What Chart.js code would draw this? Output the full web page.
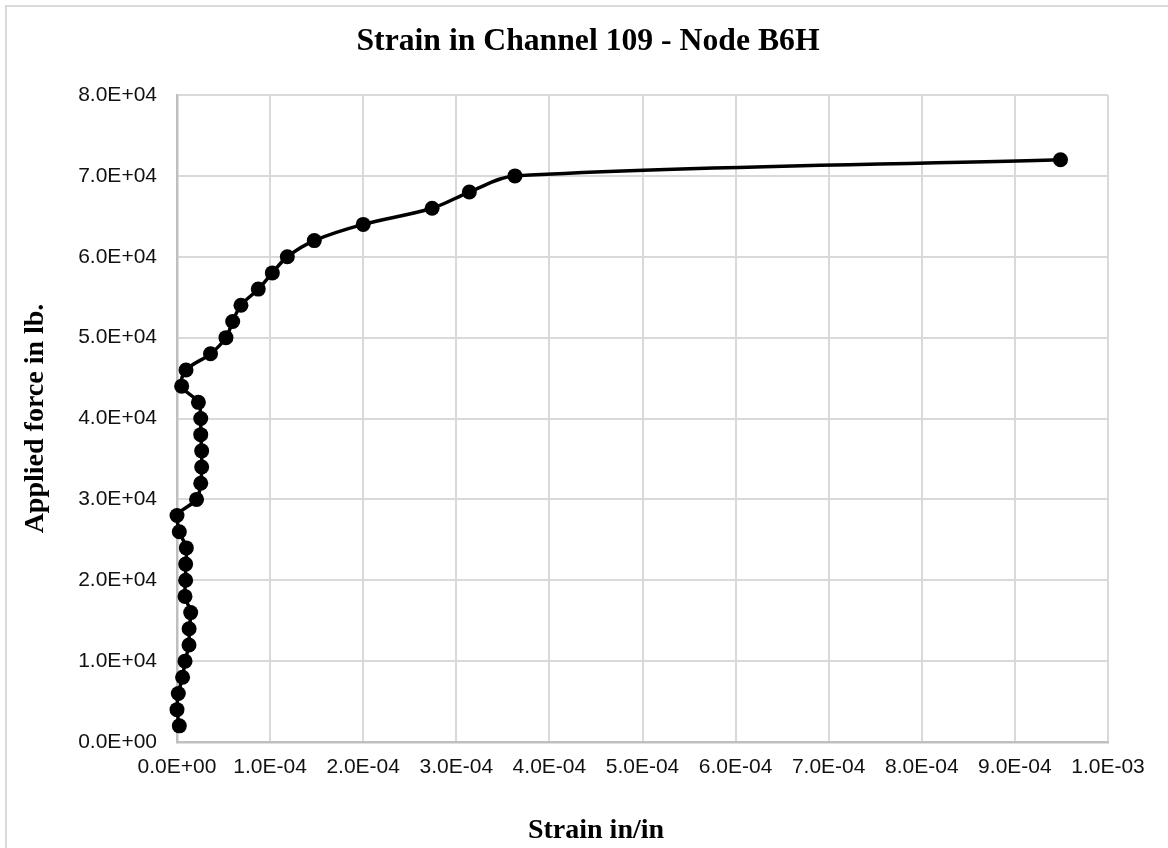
<!DOCTYPE html>
<html>
<head>
<meta charset="utf-8">
<title>Strain in Channel 109 - Node B6H</title>
<script src="https://cdn.jsdelivr.net/npm/chart.js@4.4.1/dist/chart.umd.min.js"></script>
<style>
  html, body { margin: 0; padding: 0; background: #fff; }
  canvas { display: block; }
</style>
</head>
<body>
<canvas id="strainChart" width="1168" height="848"></canvas>
<script>
// load steps (lb) and the gauge reading at each step (in/in)
const appliedForce = [
  2000, 4000, 6000, 8000, 10000, 12000, 14000, 16000, 18000, 20000, 22000, 24000,
  26000, 28000, 30000, 32000, 34000, 36000, 38000, 40000, 42000, 44000, 46000, 48000,
  50000, 52000, 54000, 56000, 58000, 60000, 62000, 64000, 66000, 68000, 70000, 72000
];
const strain = [
  0.25e-5, 0.0e-5, 0.14e-5, 0.6e-5, 0.86e-5, 1.29e-5, 1.3e-5, 1.47e-5, 0.86e-5, 0.93e-5, 0.93e-5, 1.0e-5,
  0.25e-5, 0.0e-5, 2.1e-5, 2.55e-5, 2.65e-5, 2.65e-5, 2.55e-5, 2.55e-5, 2.3e-5, 0.5e-5, 0.97e-5, 3.6e-5,
  5.26e-5, 5.98e-5, 6.87e-5, 8.73e-5, 10.24e-5, 11.85e-5, 14.75e-5, 20.0e-5, 27.4e-5, 31.4e-5, 36.3e-5, 94.9e-5
];
const xTickValues = [0, 1e-4, 2e-4, 3e-4, 4e-4, 5e-4, 6e-4, 7e-4, 8e-4, 9e-4, 1e-3];
const yTickValues = [0, 10000, 20000, 30000, 40000, 50000, 60000, 70000, 80000];

// 1.0E-04 style labels
function sci(v) {
  const parts = Number(v).toExponential(1).split('e');
  const exp = parseInt(parts[1], 10);
  const sign = exp < 0 ? '-' : '+';
  return parts[0] + 'E' + sign + String(Math.abs(exp)).padStart(2, '0');
}

const points = strain.map((s, i) => ({ x: s, y: appliedForce[i] }));

const tickFont = { family: 'Liberation Sans, Arial, sans-serif', size: 21 };
const titleFont = 'bold 31.7px "Liberation Serif", "Times New Roman", serif';
const axisTitleFont = 'bold 28px "Liberation Serif", "Times New Roman", serif';

// white background, outer frame and the three titles
const chartFrame = {
  id: 'chartFrame',
  beforeDraw(chart) {
    const ctx = chart.ctx;
    ctx.save();
    ctx.fillStyle = '#fff';
    ctx.fillRect(0, 0, chart.width, chart.height);
    ctx.strokeStyle = '#d9d9d9';
    ctx.lineWidth = 2;
    ctx.beginPath();
    ctx.moveTo(6, chart.height);
    ctx.lineTo(6, 6);
    ctx.lineTo(chart.width, 6);
    ctx.stroke();
    ctx.restore();
  },
  afterDraw(chart) {
    const ctx = chart.ctx;
    const area = chart.chartArea;
    ctx.save();
    ctx.fillStyle = '#000';
    ctx.textAlign = 'center';
    ctx.textBaseline = 'middle';
    ctx.font = titleFont;
    ctx.fillText('Strain in Channel 109 - Node B6H', 588, 42);
    ctx.font = axisTitleFont;
    ctx.fillText('Strain in/in', 596, 831);
    ctx.translate(36, (area.top + area.bottom) / 2);
    ctx.rotate(-Math.PI / 2);
    ctx.fillText('Applied force in lb.', 0, 0);
    ctx.restore();
  }
};

new Chart(document.getElementById('strainChart'), {
  type: 'scatter',
  data: {
    datasets: [{
      data: points,
      showLine: true,
      borderColor: '#000',
      borderWidth: 3.5,
      backgroundColor: '#000',
      pointRadius: 7.5,
      pointBorderWidth: 0,
      pointBackgroundColor: '#000',
      tension: 0.33,
      clip: false
    }]
  },
  options: {
    responsive: false,
    animation: false,
    layout: { padding: { top: 95, right: 60, bottom: 0, left: 0 } },
    plugins: {
      legend: { display: false },
      tooltip: { enabled: false }
    },
    scales: {
      x: {
        type: 'linear',
        min: 0,
        max: 0.001,
        afterBuildTicks: s => { s.ticks = xTickValues.map(v => ({ value: v })); },
        afterFit: s => { s.height = 106; },
        ticks: { callback: sci, font: tickFont, color: '#111', padding: 13, maxRotation: 0, autoSkip: false },
        grid: { color: '#d9d9d9', lineWidth: 2, drawTicks: false },
        border: { color: '#bfbfbf', width: 2.5 }
      },
      y: {
        min: 0,
        max: 80000,
        afterBuildTicks: s => { s.ticks = yTickValues.map(v => ({ value: v })); },
        afterFit: s => { s.width = 177; },
        ticks: { callback: sci, font: tickFont, color: '#111', padding: 20, autoSkip: false },
        grid: { color: '#d9d9d9', lineWidth: 2, drawTicks: false },
        border: { color: '#bfbfbf', width: 2.5 }
      }
    }
  },
  plugins: [chartFrame]
});
</script>
</body>
</html>
